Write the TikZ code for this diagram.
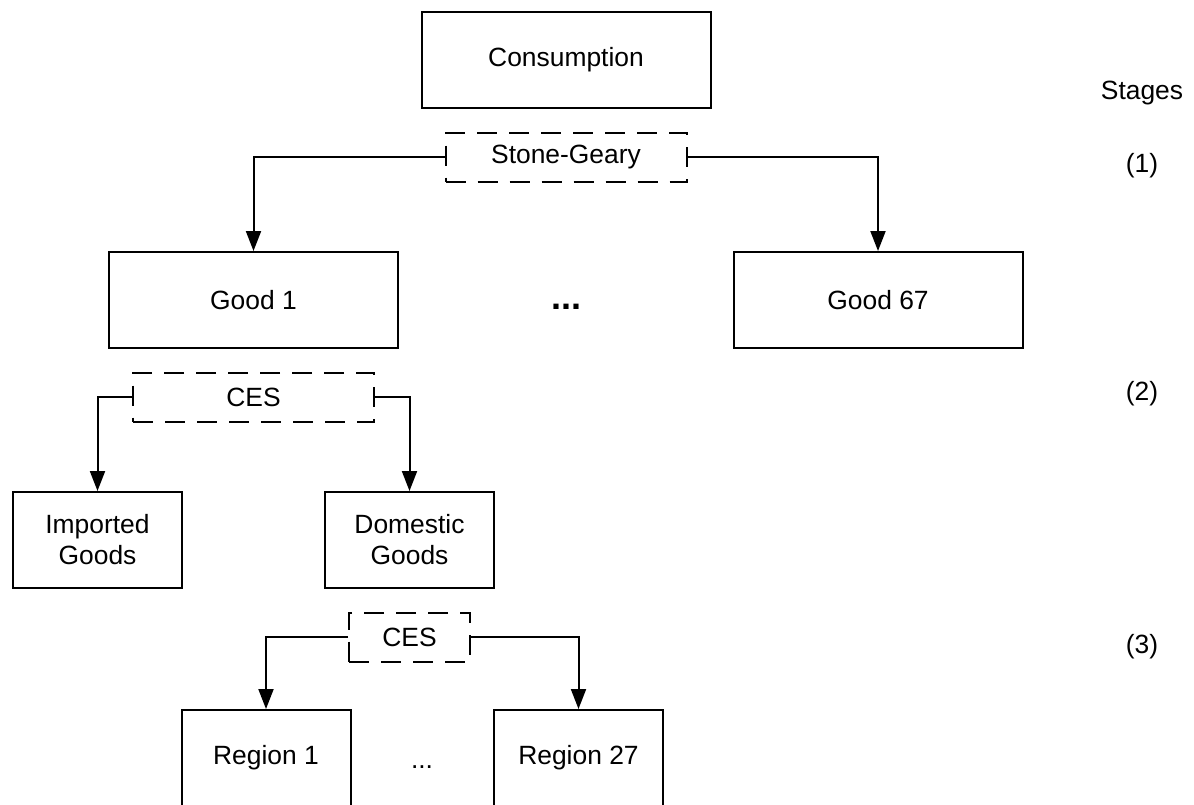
\documentclass[tikz,border=0pt]{standalone}
\usepackage{fontspec}
\setmainfont{Liberation Sans}
\usetikzlibrary{arrows.meta}

\begin{document}
\begin{tikzpicture}[node distance=48.5pt, auto,
    font=\fontsize{13.2}{15.5}\selectfont,
    box/.style={draw, rectangle, line width=1pt, minimum height=48pt, align=center},
    wide/.style={box, minimum width=144.5pt},
    narrow/.style={box, minimum width=84.5pt},
    rule/.style={draw, rectangle, dash pattern=on 10pt off 6pt, line width=1pt, minimum height=24.5pt},
    link/.style={-{Triangle[width=7.5pt, length=10pt]}, line width=1pt}]
    \useasboundingbox (0,0) rectangle (597pt,-402pt);

    % Nodes
    \node[wide] (cons) at (283pt,-30pt) {Consumption};
    \node[rule, minimum width=120.5pt, below of=cons] (sg) {Stone-Geary};
    \node[wide, below of=sg, xshift=-156.25pt, yshift=-23pt] (good1) {Good 1};
    \node[wide, below of=sg, xshift=156pt, yshift=-23pt] (good67) {Good 67};
    \node[below of=sg, yshift=-26.5pt, font=\fontsize{18}{20}\selectfont\bfseries] (gdots) {...};
    \node[rule, minimum width=120.5pt, below of=good1] (ces1) {CES};
    \node[narrow, below of=ces1, xshift=-78pt, yshift=-23pt] (imp) {Imported\\Goods};
    \node[narrow, below of=ces1, xshift=78pt, yshift=-23pt] (dom) {Domestic\\Goods};
    \node[rule, minimum width=60.5pt, below of=dom] (ces2) {CES};
    \node[narrow, below of=ces2, xshift=-71.75pt, yshift=-12pt] (reg1) {Region 1};
    \node[narrow, below of=ces2, xshift=84.5pt, yshift=-12pt] (reg27) {Region 27};
    \node[below of=ces2, xshift=6.25pt, yshift=-16.5pt] (rdots) {...};

    % Stages
    \node (stages) at (571pt,-46.5pt) {Stages};
    \node (st1) at (571pt,-83pt) {(1)};
    \node (st2) at (571pt,-197pt) {(2)};
    \node (st3) at (571pt,-323.5pt) {(3)};

    % Arrows
    \draw[link] (sg.west) -| (good1.north);
    \draw[link] (sg.east) -| (good67.north);
    \draw[link] (ces1.west) -| (imp.north);
    \draw[link] (ces1.east) -| (dom.north);
    \draw[link] (ces2.west) -| (reg1.north);
    \draw[link] (ces2.east) -| (reg27.north);
\end{tikzpicture}
\end{document}
